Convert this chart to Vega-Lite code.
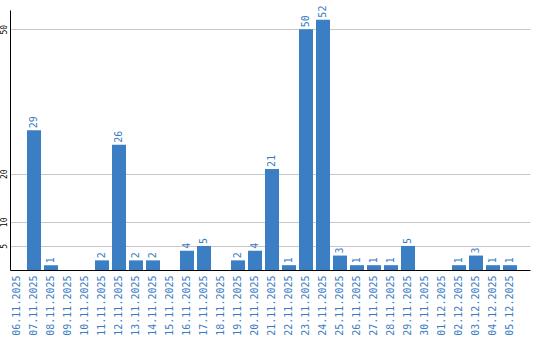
{
  "$schema": "https://vega.github.io/schema/vega-lite/v6.json",
  "width": 520,
  "height": 260,
  "autosize": {"type": "none"},
  "padding": {"left": 10, "top": 10, "right": 10, "bottom": 70},
  "background": "white",
  "config": {"view": {"stroke": null}},
  "data": {"values": [
    {"d": "06.11.2025", "v": 0},
    {"d": "07.11.2025", "v": 29},
    {"d": "08.11.2025", "v": 1},
    {"d": "09.11.2025", "v": 0},
    {"d": "10.11.2025", "v": 0},
    {"d": "11.11.2025", "v": 2},
    {"d": "12.11.2025", "v": 26},
    {"d": "13.11.2025", "v": 2},
    {"d": "14.11.2025", "v": 2},
    {"d": "15.11.2025", "v": 0},
    {"d": "16.11.2025", "v": 4},
    {"d": "17.11.2025", "v": 5},
    {"d": "18.11.2025", "v": 0},
    {"d": "19.11.2025", "v": 2},
    {"d": "20.11.2025", "v": 4},
    {"d": "21.11.2025", "v": 21},
    {"d": "22.11.2025", "v": 1},
    {"d": "23.11.2025", "v": 50},
    {"d": "24.11.2025", "v": 52},
    {"d": "25.11.2025", "v": 3},
    {"d": "26.11.2025", "v": 1},
    {"d": "27.11.2025", "v": 1},
    {"d": "28.11.2025", "v": 1},
    {"d": "29.11.2025", "v": 5},
    {"d": "30.11.2025", "v": 0},
    {"d": "01.12.2025", "v": 0},
    {"d": "02.12.2025", "v": 1},
    {"d": "03.12.2025", "v": 3},
    {"d": "04.12.2025", "v": 1},
    {"d": "05.12.2025", "v": 1}
  ]},
  "encoding": {
    "x": {
      "field": "d", "type": "nominal", "sort": null,
      "scale": {"paddingInner": 0.176, "paddingOuter": 0.382, "align": 0},
      "axis": {
        "title": null, "labelAngle": -90, "labelAlign": "right", "labelBaseline": "middle",
        "labelFont": "DejaVu Sans Mono", "labelFontSize": 10, "labelColor": "#3b7cc2",
        "ticks": false, "labelPadding": 5, "domainColor": "#000000", "domainWidth": 1,
        "grid": false
      }
    },
    "y": {
      "field": "v", "type": "quantitative",
      "scale": {"domain": [0, 54], "nice": false, "zero": true},
      "axis": {
        "title": null, "values": [5, 10, 20, 50], "labelAngle": -90,
        "labelAlign": "center", "labelBaseline": "bottom", "labelPadding": 2,
        "labelFont": "DejaVu Sans Mono", "labelFontSize": 8, "labelColor": "#000000",
        "ticks": false, "domainColor": "#000000", "domainWidth": 1,
        "grid": true, "gridColor": "#c8c8c8", "gridWidth": 1
      }
    }
  },
  "layer": [
    {"mark": {"type": "bar", "color": "#3c7ec4"}},
    {
      "transform": [{"filter": "datum.v > 0"}],
      "mark": {"type": "text", "angle": -90, "align": "left", "baseline": "middle", "dx": 2,
               "font": "DejaVu Sans Mono", "fontSize": 10, "color": "#3b7cc2"},
      "encoding": {"text": {"field": "v", "type": "quantitative"}}
    }
  ]
}
